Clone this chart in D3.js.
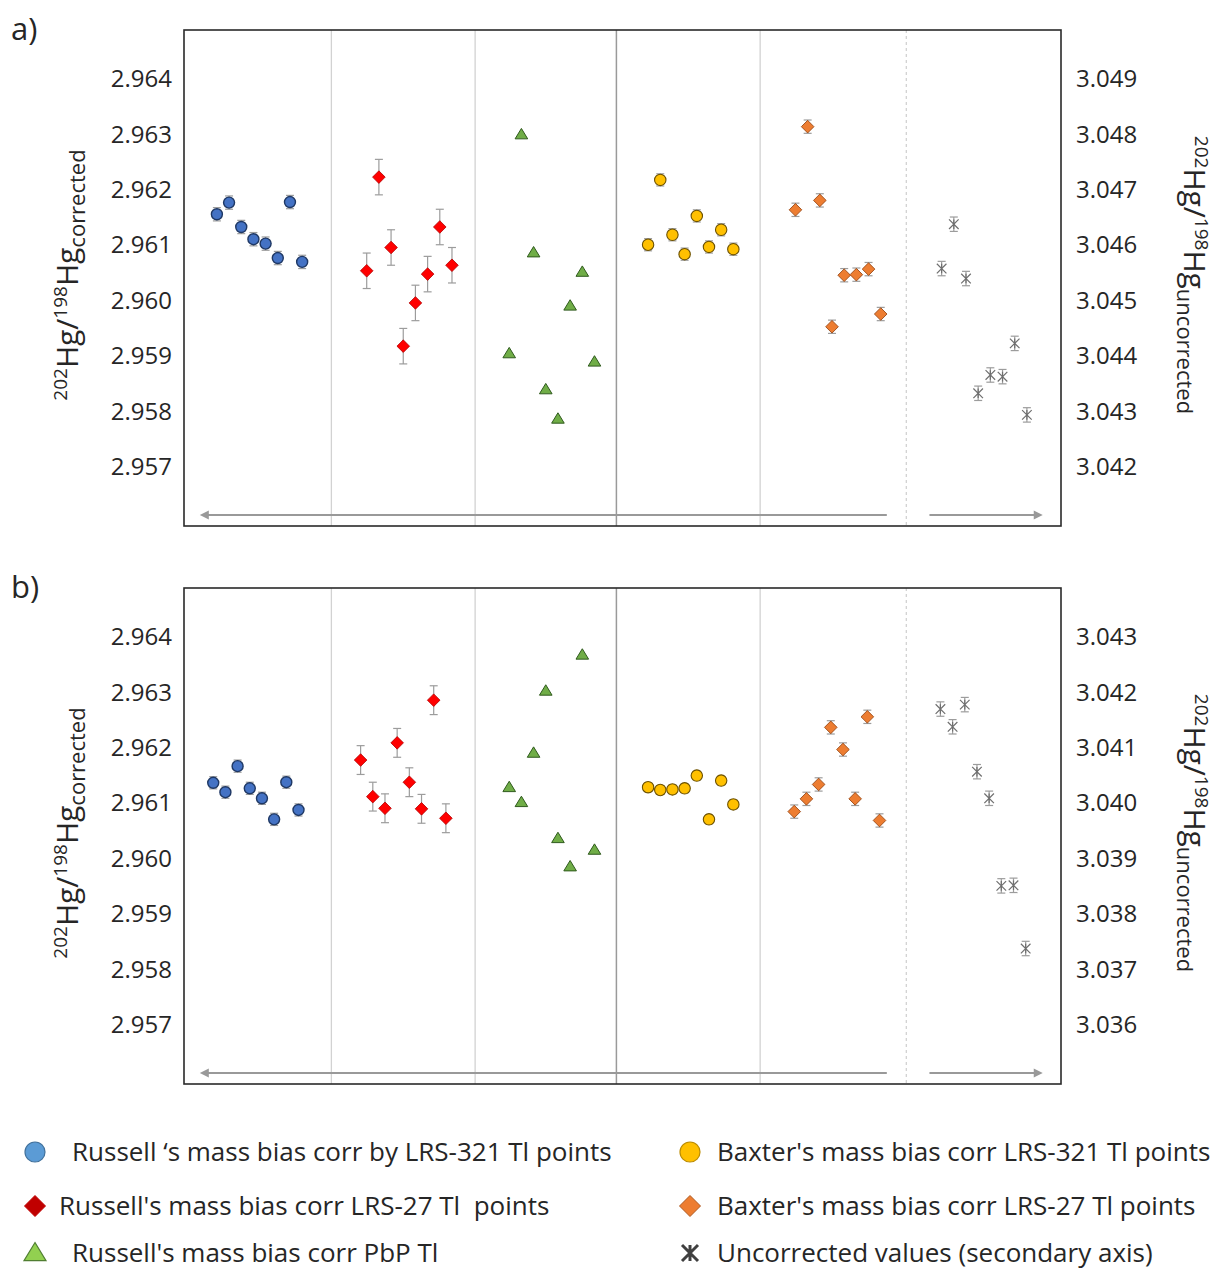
<!DOCTYPE html>
<html>
<head>
<meta charset="utf-8">
<script src="https://cdn.jsdelivr.net/npm/d3@7"></script>
<style>
  body { margin: 0; background: #fff; }
  svg { display: block; font-family: "Open Sans", sans-serif; }
</style>
</head>
<body>
<svg id="chart" width="1217" height="1270"></svg>
<script>
// tick labels
const leftTicks = [2.957, 2.958, 2.959, 2.960, 2.961, 2.962, 2.963, 2.964]
const rightTicksA = [3.042, 3.043, 3.044, 3.045, 3.046, 3.047, 3.048, 3.049]
const rightTicksB = [3.036, 3.037, 3.038, 3.039, 3.040, 3.041, 3.042, 3.043]

const seriesNames = [
  "Russell \u2018s mass bias corr by LRS-321 Tl points",
  "Russell's mass bias corr LRS-27 Tl  points",
  "Russell's mass bias corr PbP Tl",
  "Baxter's mass bias corr LRS-321 Tl points",
  "Baxter's mass bias corr LRS-27 Tl points",
  "Uncorrected values (secondary axis)"
]

// panel a) values
const russell321A = [2.96156, 2.96177, 2.96133, 2.96111, 2.96103, 2.96077, 2.96178, 2.96070]
const russell27A  = [2.96054, 2.96223, 2.96096, 2.95918, 2.95996, 2.96048, 2.96133, 2.96064]
const russellPbPA = [2.95905, 2.96300, 2.96087, 2.95840, 2.95787, 2.95991, 2.96052, 2.95890]
const baxter321A  = [2.96101, 2.96218, 2.96119, 2.96084, 2.96153, 2.96097, 2.96128, 2.96093]
const baxter27A   = [2.96164, 2.96314, 2.96181, 2.95953, 2.96046, 2.96047, 2.96057, 2.95976]
const uncorrA     = [3.04558, 3.04638, 3.04540, 3.04333, 3.04366, 3.04363, 3.04423, 3.04294]
const errA = [0.00012, 0.00032, 0, 0.00011, 0.00012, 0.00013]

// panel b) values
const russell321B = [2.96137, 2.96120, 2.96167, 2.96127, 2.96109, 2.96071, 2.96138, 2.96088]
const russell27B  = [2.96178, 2.96112, 2.96091, 2.96209, 2.96138, 2.96090, 2.96286, 2.96073]
const russellPbPB = [2.96129, 2.96102, 2.96191, 2.96303, 2.96037, 2.95986, 2.96368, 2.96016]
const baxter321B  = [2.96129, 2.96124, 2.96125, 2.96127, 2.96150, 2.96071, 2.96141, 2.96098]
const baxter27B   = [2.96085, 2.96108, 2.96134, 2.96237, 2.96197, 2.96108, 2.96256, 2.96069]
const uncorrB     = [3.04170, 3.04138, 3.04178, 3.04057, 3.04009, 3.03851, 3.03852, 3.03738]
const errB = [0.00011, 0.00026, 0, 0.00008, 0.00012, 0.00013]

// measurement slot of the first point of each series (8 runs per series)
const startA = [2.7, 15.0, 26.7, 38.1, 50.2, 62.2]
const startB = [2.4, 14.5, 26.7, 38.1, 50.1, 62.1]
const dividers = [12.1, 23.9, 35.5, 47.3, 59.3]

const svg = d3.select('#chart')
const left = 184, width = 877, height = 496
const textCol = '#262626'

// custom symbol shapes (size = half width)
const diamond = { draw(c, h) { c.moveTo(0, -h); c.lineTo(h, 0); c.lineTo(0, h); c.lineTo(-h, 0); c.closePath() } }
const triangle = { draw(c, h) { c.moveTo(0, -h * 0.95); c.lineTo(h, h * 0.7); c.lineTo(-h, h * 0.7); c.closePath() } }
const star = { draw(c, h) {
  c.moveTo(-h, -h); c.lineTo(h, h); c.moveTo(h, -h); c.lineTo(-h, h)
  c.moveTo(0, -h); c.lineTo(0, h)
} }
const circ = { draw(c, r) { c.moveTo(r, 0); c.arc(0, 0, r, 0, 2 * Math.PI) } }

const styles = [
  { type: circ, size: 5.5, fill: '#4472c4', stroke: '#1f3864', sw: 1.4 },
  { type: diamond, size: 6.3, fill: '#ff0000', stroke: '#b00000', sw: 0.8 },
  { type: triangle, size: 6.3, fill: '#70ad47', stroke: '#2f5a1d', sw: 1 },
  { type: circ, size: 5.7, fill: '#ffc000', stroke: '#6b5000', sw: 1.1 },
  { type: diamond, size: 6.3, fill: '#ed7d31', stroke: '#9a4a17', sw: 0.9 },
  { type: star, size: 4.8, fill: 'none', stroke: '#6f6f6f', sw: 1.2 }
]
const legendStyles = [
  { type: circ, size: 10, fill: '#5b9bd5', stroke: '#41719c', sw: 1.2 },
  { type: diamond, size: 10.5, fill: '#c00000', stroke: '#c00000', sw: 1 },
  { type: triangle, size: 11, fill: '#92d050', stroke: '#507e32', sw: 1.2 },
  { type: circ, size: 10, fill: '#ffc000', stroke: '#bc8c00', sw: 1.2 },
  { type: diamond, size: 10.5, fill: '#ed7d31', stroke: '#ae5a21', sw: 1 },
  { type: star, size: 8, fill: 'none', stroke: '#404040', sw: 3 }
]

function axisTitle(g, x, y, angle, sub) {
  const t = g.append('text')
    .attr('transform', `translate(${x},${y}) rotate(${angle})`)
    .attr('text-anchor', 'middle')
    .attr('fill', textCol)
  t.append('tspan').attr('font-size', 19).attr('dy', -11).text('202')
  t.append('tspan').attr('font-size', 30).attr('dy', 11).text('Hg/')
  t.append('tspan').attr('font-size', 19).attr('dy', -11).text('198')
  t.append('tspan').attr('font-size', 30).attr('dy', 11).text('Hg')
  t.append('tspan').attr('font-size', 22).attr('dy', 7).text(sub)
}

function drawPanel(top, label, series, errs, starts, rightTicks) {
  const g = svg.append('g').attr('transform', `translate(${left},${top})`)

  const x = d3.scaleLinear().domain([0, 72]).range([0, width])
  const y = d3.scaleLinear().domain([2.957, 2.964]).range([437, 49])
  const yR = d3.scaleLinear().domain([rightTicks[0], rightTicks[7]]).range([437, 49])

  // group dividers
  g.selectAll('.div')
    .data(dividers)
    .enter()
    .append('line')
    .attr('x1', d => x(d)).attr('x2', d => x(d))
    .attr('y1', 0).attr('y2', height)
    .attr('stroke', (d, i) => i == 2 ? '#9a9a9a' : '#d2d2d2')
    .attr('stroke-width', (d, i) => i == 2 ? 1.5 : 1.3)
    .attr('stroke-dasharray', (d, i) => i == 4 ? '3,3' : null)

  // direction arrows
  const ay = height - 11
  g.append('line')
    .attr('x1', x(57.7)).attr('x2', x(1.6))
    .attr('y1', ay).attr('y2', ay)
    .attr('stroke', '#999').attr('stroke-width', 2)
  g.append('path')
    .attr('d', `M${x(1.3)},${ay} l9,-4.5 l0,9 z`)
    .attr('fill', '#999')
  g.append('line')
    .attr('x1', x(61.2)).attr('x2', x(70.2))
    .attr('y1', ay).attr('y2', ay)
    .attr('stroke', '#999').attr('stroke-width', 2)
  g.append('path')
    .attr('d', `M${x(70.5)},${ay} l-9,-4.5 l0,9 z`)
    .attr('fill', '#999')

  // frame
  g.append('rect')
    .attr('width', width).attr('height', height)
    .attr('fill', 'none').attr('stroke', '#2a2a2a').attr('stroke-width', 1.6)

  // axes
  const axL = g.append('g').call(d3.axisLeft(y).tickValues(leftTicks)
    .tickFormat(d3.format('.3f')).tickSize(0).tickPadding(12))
  const axR = g.append('g').attr('transform', `translate(${width},0)`)
    .call(d3.axisRight(yR).tickValues(rightTicks)
    .tickFormat(d3.format('.3f')).tickSize(0).tickPadding(15))
  for (const ax of [axL, axR]) {
    ax.select('.domain').remove()
    ax.selectAll('text').attr('font-size', 24).attr('fill', textCol)
      .attr('font-family', '"Open Sans", sans-serif')
  }

  // points
  series.forEach((vals, si) => {
    const sc = si == 5 ? yR : y
    const st = styles[si]
    const pts = vals.map((v, i) => ({ x: x(starts[si] + i), v: v, e: errs[si] }))
    const sg = g.append('g')
    if (errs[si] > 0) {
      const eg = sg.selectAll('.err').data(pts).enter().append('g')
        .attr('stroke', '#9c9c9c').attr('stroke-width', 1.2)
      eg.append('line').attr('x1', d => d.x).attr('x2', d => d.x)
        .attr('y1', d => sc(d.v - d.e)).attr('y2', d => sc(d.v + d.e))
      eg.append('line').attr('x1', d => d.x - 4).attr('x2', d => d.x + 4)
        .attr('y1', d => sc(d.v - d.e)).attr('y2', d => sc(d.v - d.e))
      eg.append('line').attr('x1', d => d.x - 4).attr('x2', d => d.x + 4)
        .attr('y1', d => sc(d.v + d.e)).attr('y2', d => sc(d.v + d.e))
    }
    sg.selectAll('.pt').data(pts).enter().append('path')
      .attr('transform', d => `translate(${d.x},${sc(d.v)})`)
      .attr('d', d3.symbol().type(st.type).size(st.size))
      .attr('fill', st.fill).attr('stroke', st.stroke).attr('stroke-width', st.sw)
  })

  // panel label and axis titles
  svg.append('text').attr('x', 11).attr('y', top + 10)
    .attr('font-size', 31).attr('fill', textCol).text(label)
  axisTitle(svg, 78, top + 245, -90, 'corrected')
  axisTitle(svg, 1184, top + 245, 90, 'uncorrected')
}

drawPanel(30, 'a)', [russell321A, russell27A, russellPbPA, baxter321A, baxter27A, uncorrA], errA, startA, rightTicksA)
drawPanel(588, 'b)', [russell321B, russell27B, russellPbPB, baxter321B, baxter27B, uncorrB], errB, startB, rightTicksB)

// legend
const legendRows = [1152, 1206, 1253, 1152, 1206, 1253]
const legendMarkX = [35, 35, 35, 690, 690, 690]
const legendTextX = [72, 59, 72, 717, 717, 717]
const lg = svg.append('g')
seriesNames.forEach((name, i) => {
  const st = legendStyles[i]
  lg.append('path')
    .attr('transform', `translate(${legendMarkX[i]},${legendRows[i]})`)
    .attr('d', d3.symbol().type(st.type).size(st.size))
    .attr('fill', st.fill).attr('stroke', st.stroke).attr('stroke-width', st.sw)
  lg.append('text')
    .attr('x', legendTextX[i]).attr('y', legendRows[i])
    .attr('dy', '0.35em')
    .attr('font-size', 26).attr('fill', textCol)
    .style('white-space', 'pre')
    .text(name)
})
</script>
</body>
</html>
